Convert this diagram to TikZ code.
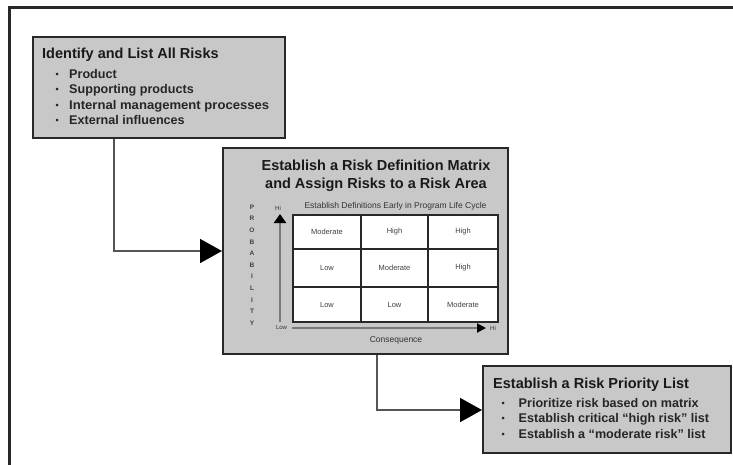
\documentclass[tikz,border=0pt]{standalone}
\usepackage{fontspec}
\setmainfont{Liberation Sans}
\usetikzlibrary{arrows.meta}

\definecolor{panelfill}{RGB}{200,200,200}
\definecolor{edge}{RGB}{40,40,40}
\definecolor{wire}{RGB}{85,85,85}
\definecolor{axisgray}{RGB}{120,120,120}

\newcommand\dotmark[1]{\makebox[#1][l]{\fontsize{9}{9}\selectfont\raisebox{0.6pt}{•}}}

\tikzset{
  panel/.style={draw=edge, fill=panelfill, line width=2.4pt, anchor=north west, inner sep=0pt},
  heading/.style={font=\bfseries\fontsize{14.5}{17}\selectfont, text=black!90, inner sep=0pt},
  itemline/.style={font=\bfseries\fontsize{12.6}{15}\selectfont, text=black!85, anchor=base west, inner sep=0pt},
  wirelink/.style={draw=wire, line width=1.8pt, -{Triangle[length=22pt,width=24pt,color=black]}},
  cell/.style={draw=edge, fill=white, line width=2.2pt, inner sep=0pt,
               font=\fontsize{7.5}{9}\selectfont, text=black!75},
  tiny/.style={font=\fontsize{8.5}{10}\selectfont, text=black!80, inner sep=0pt},
  ticklabel/.style={font=\fontsize{6}{7}\selectfont, text=black!80, inner sep=0pt},
  letter/.style={font=\bfseries\fontsize{6.5}{7}\selectfont, text=black!75, inner sep=0pt},
}

\begin{document}
\begin{tikzpicture}[x=1pt, y=-1pt]
\useasboundingbox (0,0) rectangle (733,464);
\fill[white] (0,0) rectangle (733,464);

% outer frame (only top and left edges fall inside the page)
\draw[edge, line width=3pt] (9.5,470) -- (9.5,7) -- (740,7);

% ---- panel 1: identify risks
\node[panel, minimum width=252pt, minimum height=101pt] (identify) at (32,36) {};
\node[heading, anchor=base west] (identifyTitle) at (42,58) {Identify and List All Risks};
\node[itemline] (i1) at (55.5,78)  {\dotmark{13.5pt}Product};
\node[itemline] (i2) at (55.5,93)  {\dotmark{13.5pt}Supporting products};
\node[itemline] (i3) at (55.5,109) {\dotmark{13.5pt}\resizebox{200pt}{\height}{Internal management processes}};
\node[itemline] (i4) at (55.5,124) {\dotmark{13.5pt}External influences};

% ---- panel 2: risk definition matrix
\node[panel, minimum width=285pt, minimum height=206pt] (define) at (222,147) {};
\node[heading, anchor=base] (defineTitleA) at (376,170) {Establish a Risk Definition Matrix};
\node[heading, anchor=base] (defineTitleB) at (376,188) {and Assign Risks to a Risk Area};
\node[tiny, anchor=base] (defineNote) at (395.5,208) {Establish Definitions Early in Program Life Cycle};

% matrix cells (rows top to bottom, columns left to right)
\node[cell, minimum width=68pt, minimum height=34pt] (m11) at (327,232)   {Moderate};
\node[cell, minimum width=67pt, minimum height=34pt] (m12) at (394.5,232) {High};
\node[cell, minimum width=70pt, minimum height=34pt] (m13) at (463,232)   {High};
\node[cell, minimum width=68pt, minimum height=38pt] (m21) at (327,268)   {Low};
\node[cell, minimum width=67pt, minimum height=38pt] (m22) at (394.5,268) {Moderate};
\node[cell, minimum width=70pt, minimum height=38pt] (m23) at (463,268)   {High};
\node[cell, minimum width=68pt, minimum height=35pt] (m31) at (327,304.5)   {Low};
\node[cell, minimum width=67pt, minimum height=35pt] (m32) at (394.5,304.5) {Low};
\node[cell, minimum width=70pt, minimum height=35pt] (m33) at (463,304.5)   {Moderate};

% axes
\node[ticklabel] (yHi)  at (278,208) {Hi};
\node[ticklabel] (yLow) at (281.5,327.5) {Low};
\node[ticklabel] (xHi)  at (493,328) {Hi};
\coordinate (yStart) at (280,322);
\coordinate (yEnd)   at (280,214);
\coordinate (xStart) at (292,328);
\coordinate (xEnd)   at (486,328);
\draw[axisgray, line width=2.6pt, -{Triangle[length=9pt,width=12pt,color=black]}] (yStart) -- (yEnd);
\draw[axisgray, line width=2pt, -{Triangle[length=9pt,width=9pt,color=black]}] (xStart) -- (xEnd);
\node[tiny, anchor=base] (xTitle) at (396,342) {Consequence};

% vertical axis title, one letter per line
\foreach \ch [count=\k from 0] in {P,R,O,B,A,B,I,L,I,T,Y}
  \node[letter] (prob\k) at (252,{207+\k*11.6}) {\ch};

% ---- panel 3: priority list
\node[panel, minimum width=248pt, minimum height=87pt] (priority) at (482,365) {};
\node[heading, anchor=base west] (priorityTitle) at (493,388) {Establish a Risk Priority List};
\node[itemline] (p1) at (501.5,407) {\dotmark{17pt}Prioritize risk based on matrix};
\node[itemline] (p2) at (501.5,422) {\dotmark{17pt}Establish critical “high risk” list};
\node[itemline] (p3) at (501.5,438) {\dotmark{17pt}Establish a “moderate risk” list};

% ---- connectors
\coordinate (bend1) at (114,251);
\coordinate (bend2) at (377,410);
\draw[wirelink] (identify.south -| bend1) -- (bend1) -- (bend1 -| define.west);
\draw[wirelink] (define.south -| bend2) -- (bend2) -- (bend2 -| priority.west);
\end{tikzpicture}
\end{document}
